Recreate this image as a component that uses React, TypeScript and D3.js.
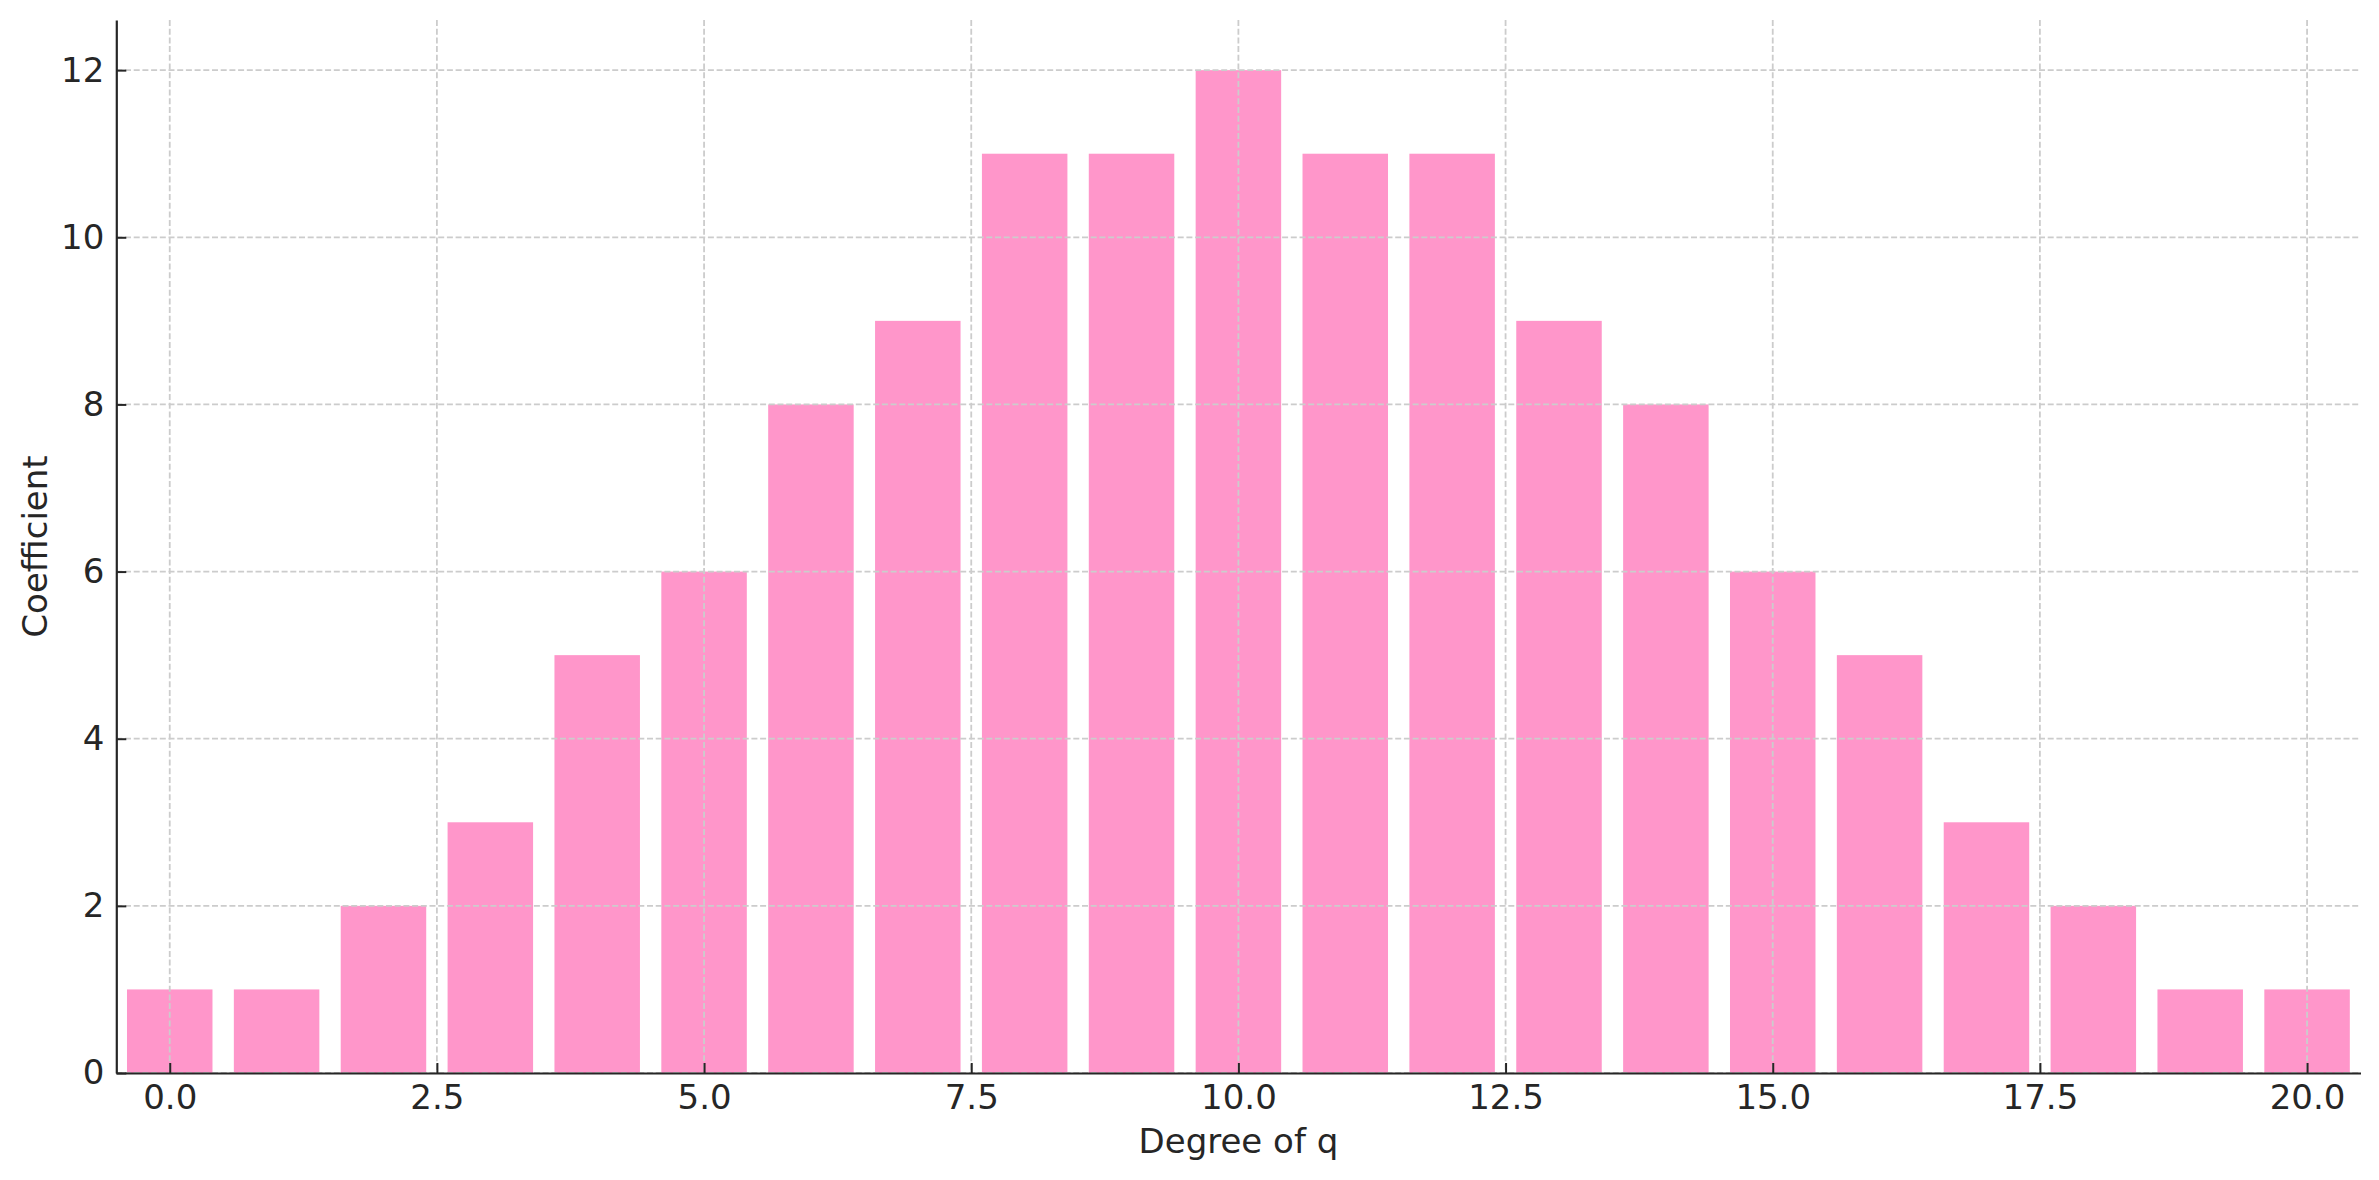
import React, {useEffect, useRef} from 'react';
import * as d3 from 'd3';

// q-degree coefficients
const degrees = d3.range(0, 21);
const coefficients = [1, 1, 2, 3, 5, 6, 8, 9, 11, 11, 12, 11, 11, 9, 8, 6, 5, 3, 2, 1, 1];
const xTicks = [0, 2.5, 5, 7.5, 10, 12.5, 15, 17.5, 20];
const yTicks = [0, 2, 4, 6, 8, 10, 12];

const W = 2379;
const H = 1180;

const App = () => {
  const ref = useRef<SVGSVGElement>(null);

  useEffect(() => {
    const svg = d3.select(ref.current);
    svg.selectAll('*').remove();

    const left = 116.3,
      right = 2360.5,
      top = 20,
      bottom = 1073;
    const font = 'DejaVu Sans, sans-serif';
    const ink = '#262626';
    const fs = '34px';

    const x = d3.scaleLinear().domain([-0.5, 20.5]).range([left, right]);
    const y = d3.scaleLinear().domain([0, 12.6]).range([bottom, top]);
    const bw = x(0.8) - x(0);

    // bars
    svg
      .append('g')
      .selectAll('rect')
      .data(degrees)
      .enter()
      .append('rect')
      .attr('x', d => x(d - 0.4))
      .attr('y', (d, i) => y(coefficients[i]))
      .attr('width', bw)
      .attr('height', (d, i) => bottom - y(coefficients[i]))
      .attr('fill', '#ff96ca');

    // grid
    const grid = svg.append('g').attr('stroke', '#cccccc').attr('stroke-width', 1.8).attr('stroke-dasharray', '6,2.7');
    grid
      .selectAll('.gx')
      .data(xTicks)
      .enter()
      .append('line')
      .attr('x1', d => x(d))
      .attr('x2', d => x(d))
      .attr('y1', top)
      .attr('y2', bottom);
    grid
      .selectAll('.gy')
      .data(yTicks)
      .enter()
      .append('line')
      .attr('x1', left)
      .attr('x2', right)
      .attr('y1', d => y(d))
      .attr('y2', d => y(d));

    // x axis
    const xa = svg
      .append('g')
      .attr('transform', `translate(0,${bottom})`)
      .call(
        d3
          .axisBottom(x)
          .tickValues(xTicks)
          .tickFormat(d3.format('.1f'))
          .tickSizeInner(-10)
          .tickSizeOuter(0)
          .tickPadding(12)
      );
    // y axis
    const ya = svg
      .append('g')
      .attr('transform', `translate(${left},0)`)
      .call(
        d3
          .axisLeft(y)
          .tickValues(yTicks)
          .tickFormat(d3.format('d'))
          .tickSizeInner(-10)
          .tickSizeOuter(0)
          .tickPadding(12)
      );
    [xa, ya].forEach(a => {
      a.select('.domain').attr('stroke', ink).attr('stroke-width', 2.2);
      a.selectAll('.tick line').attr('stroke', ink).attr('stroke-width', 2);
      a.selectAll('.tick text').attr('fill', ink).style('font-family', font).style('font-size', fs);
    });

    // labels
    svg
      .append('text')
      .attr('x', (left + right) / 2)
      .attr('y', 1153)
      .attr('text-anchor', 'middle')
      .attr('fill', ink)
      .style('font-family', font)
      .style('font-size', fs)
      .text('Degree of q');
    svg
      .append('text')
      .attr('transform', `translate(47,${(top + bottom) / 2}) rotate(-90)`)
      .attr('text-anchor', 'middle')
      .attr('fill', ink)
      .style('font-family', font)
      .style('font-size', fs)
      .text('Coefficient');
  }, []);

  return (
    <svg
      ref={ref}
      width={W}
      height={H}
      style={{position: 'absolute', left: 0, top: 0, background: '#fff'}}
    />
  );
};

export default App;
